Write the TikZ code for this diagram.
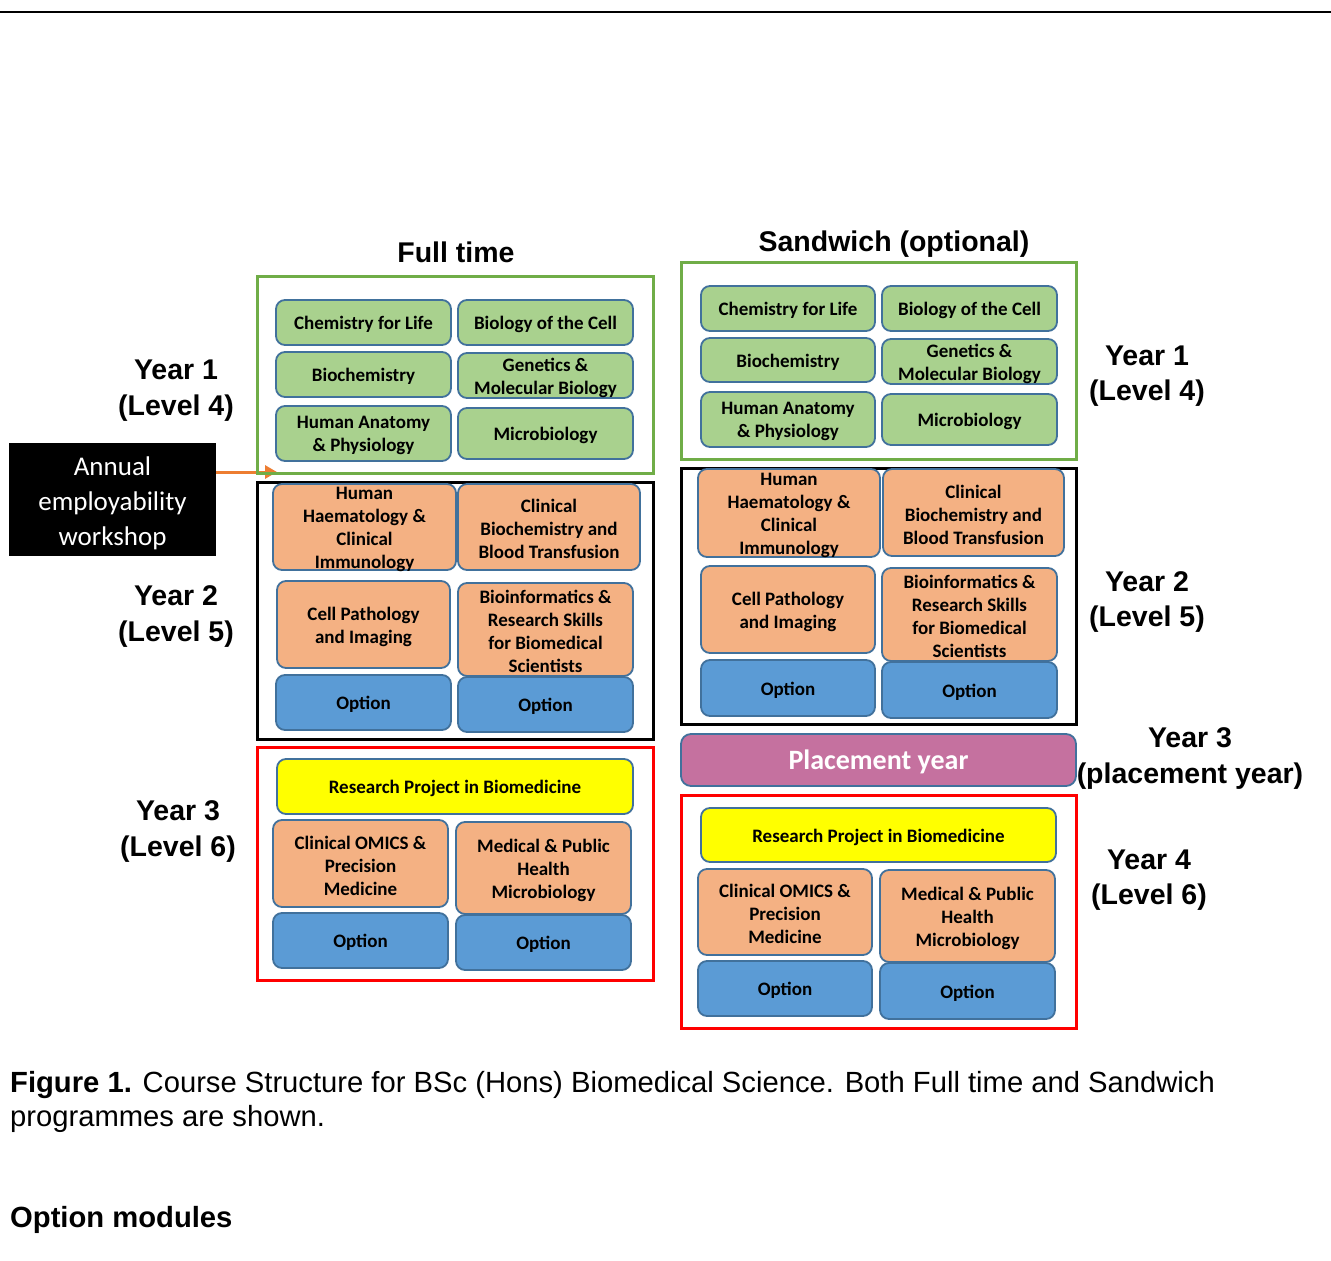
\documentclass[tikz,border=0pt]{standalone}
\usepackage{fontspec}
\setmainfont{Liberation Sans}
\newfontfamily\carl{Carlito}
\usetikzlibrary{arrows.meta}
\definecolor{gfill}{HTML}{A9D18E}
\definecolor{ofill}{HTML}{F4B183}
\definecolor{bfill}{HTML}{5B9BD5}
\definecolor{yfill}{HTML}{FFFF00}
\definecolor{pfill}{HTML}{C5719F}
\definecolor{edgec}{HTML}{41719C}
\definecolor{gframe}{HTML}{70AD47}
\definecolor{arrc}{HTML}{ED7D31}
\tikzset{
 mod/.style={draw=edgec, line width=1.8pt, rounded corners=9pt, inner sep=0pt, align=center, font=\carl\bfseries\fontsize{19}{23}\selectfont},
 grn/.style={mod, fill=gfill},
 org/.style={mod, fill=ofill},
 opt/.style={mod, fill=bfill},
 yel/.style={mod, fill=yfill},
 frame/.style={line width=3pt, inner sep=0pt},
 lbl/.style={align=center, inner sep=0pt, font=\bfseries\fontsize{28.5}{35.5}\selectfont},
 captxt/.style={inner sep=0pt, anchor=base west, font=\fontsize{29.2}{34}\selectfont},
}
\def\mbshift{2}
% style, name, x1, y1, x2, y2, text
\newcommand{\modbox}[7]{%
 \pgfmathsetmacro{\mbw}{#5-#3}\pgfmathsetmacro{\mbh}{#6-#4}%
 \pgfmathsetmacro{\mbx}{(#3+#5)/2}\pgfmathsetmacro{\mby}{(#4+#6)/2}%
 \node[#1, minimum width=\mbw pt, minimum height=\mbh pt] (#2) at (\mbx,\mby) {};
 \node[#1, draw=none, fill=none, minimum width=0pt, minimum height=0pt, yshift=-\mbshift pt] (#2-txt) at (#2.center) {#7};}
\begin{document}
\begin{tikzpicture}[x=1pt,y=-1pt]
\fill[white] (0,0) rectangle (1331,1261);
\useasboundingbox (0,0) rectangle (1331,1261);
\draw[line width=2.2pt] (0,12) -- (1331,12);

% titles
\node[lbl] (ftT) at (456,252) {Full time};
\node[lbl] (swT) at (894,244) {Sandwich (optional)};

% left labels
\node[lbl] (ly1) at (176,390.5) {Year 1\\(Level 4)};
\node[lbl] (ly2) at (176,616.5) {Year 2\\(Level 5)};
\node[lbl] (ly3) at (178,831.5) {Year 3\\(Level 6)};
% right labels
\node[lbl] (ry1) at (1147,376) {Year 1\\(Level 4)};
\node[lbl] (ry2) at (1147,602) {Year 2\\(Level 5)};
\node[lbl] (ry3) at (1190,758.5) {Year 3\\(placement year)};
\node[lbl] (ry4) at (1149,880) {Year 4\\(Level 6)};

% workshop box
\def\mbshift{3.5}
\modbox{fill=black, inner sep=0pt, text=white, align=center, font=\carl\fontsize{27}{35}\selectfont}{annual}{9}{443}{216}{556}{Annual\\employability\\workshop}
\def\mbshift{2}
\coordinate (arrEnd) at (277,472);
\draw[arrc, line width=3pt, -{Triangle[length=12pt,width=13pt]}] (annual.east |- arrEnd) -- (arrEnd);

% ---------- Full time ----------
\modbox{frame, draw=gframe}{ftY1}{257}{276}{653}{473}{}
\modbox{frame, draw=black}{ftY2}{257}{482}{653}{739}{}
\modbox{frame, draw=red}{ftY3}{257}{747}{653}{980}{}

\modbox{grn}{ftA}{276}{300}{451}{345}{Chemistry for Life}
\modbox{grn}{ftB}{458}{300}{633}{345}{Biology of the Cell}
\modbox{grn}{ftC}{276}{352}{451}{397}{Biochemistry}
\modbox{grn}{ftD}{458}{353}{633}{398}{Genetics \&\\Molecular Biology}
\modbox{grn}{ftE}{276}{406}{451}{461}{Human Anatomy\\\& Physiology}
\modbox{grn}{ftF}{458}{408}{633}{459}{Microbiology}

\modbox{org}{ftG}{273}{484}{456}{570}{Human\\Haematology \&\\Clinical\\Immunology}
\modbox{org}{ftH}{458}{484}{640}{570}{Clinical\\Biochemistry and\\Blood Transfusion}
\modbox{org}{ftI}{277}{581}{450}{668}{Cell Pathology\\and Imaging}
\modbox{org}{ftJ}{458}{583}{633}{676}{Bioinformatics \&\\Research Skills\\for Biomedical\\Scientists}
\modbox{opt}{ftK}{276}{675}{451}{730}{Option}
\modbox{opt}{ftL}{458}{677}{633}{732}{Option}

\modbox{yel}{ftM}{277}{759}{633}{814}{Research Project in Biomedicine}
\modbox{org}{ftN}{273}{820}{448}{907}{Clinical OMICS \&\\Precision\\Medicine}
\modbox{org}{ftO}{456}{822}{631}{914}{Medical \& Public\\Health\\Microbiology}
\modbox{opt}{ftP}{273}{913}{448}{968}{Option}
\modbox{opt}{ftQ}{456}{915}{631}{970}{Option}

% ---------- Sandwich ----------
\modbox{frame, draw=gframe}{swY1}{681}{262}{1076}{459}{}
\modbox{frame, draw=black}{swY2}{681}{468}{1076}{724}{}
\modbox{frame, draw=red}{swY4}{681}{795}{1076}{1028}{}

\modbox{grn}{swA}{701}{286}{875}{331}{Chemistry for Life}
\modbox{grn}{swB}{882}{286}{1057}{331}{Biology of the Cell}
\modbox{grn}{swC}{701}{338}{875}{382}{Biochemistry}
\modbox{grn}{swD}{882}{339}{1057}{384}{Genetics \&\\Molecular Biology}
\modbox{grn}{swE}{701}{392}{875}{447}{Human Anatomy\\\& Physiology}
\modbox{grn}{swF}{882}{394}{1057}{445}{Microbiology}

\modbox{org}{swG}{698}{469}{880}{557}{Human\\Haematology \&\\Clinical\\Immunology}
\modbox{org}{swH}{883}{469}{1064}{556}{Clinical\\Biochemistry and\\Blood Transfusion}
\modbox{org}{swI}{701}{566}{875}{653}{Cell Pathology\\and Imaging}
\modbox{org}{swJ}{882}{568}{1057}{661}{Bioinformatics \&\\Research Skills\\for Biomedical\\Scientists}
\modbox{opt}{swK}{701}{660}{875}{716}{Option}
\modbox{opt}{swL}{882}{662}{1057}{718}{Option}

\modbox{mod, fill=pfill, text=white, rounded corners=10pt, font=\carl\bfseries\fontsize{28}{32}\selectfont}{swP}{681}{734}{1076}{786}{Placement year}

\modbox{yel}{swM}{701}{808}{1056}{862}{Research Project in Biomedicine}
\modbox{org}{swN}{698}{869}{872}{955}{Clinical OMICS \&\\Precision\\Medicine}
\modbox{org}{swO}{880}{870}{1055}{962}{Medical \& Public\\Health\\Microbiology}
\modbox{opt}{swQ}{698}{961}{872}{1016}{Option}
\modbox{opt}{swR}{880}{963}{1055}{1019}{Option}

% caption
\node[captxt] (cap1) at (10,1092) {\textbf{Figure 1.} Course Structure for BSc (Hons) Biomedical Science. Both Full time and Sandwich};
\node[captxt] (cap2) at (10,1126) {programmes are shown.};
\node[captxt, font=\bfseries\fontsize{29.2}{34}\selectfont] (optm) at (10,1227) {Option modules};
\end{tikzpicture}
\end{document}
